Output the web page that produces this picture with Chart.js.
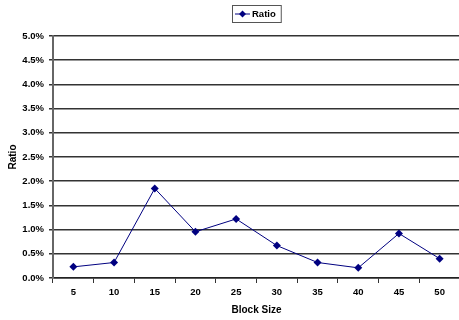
<!DOCTYPE html>
<html>
<head>
<meta charset="utf-8">
<script src="https://cdn.jsdelivr.net/npm/chart.js@4/dist/chart.umd.min.js"></script>
<style>
  html, body { margin: 0; padding: 0; background: #fff; overflow: hidden; }
  #wrap { width: 464px; height: 320px; position: relative; }
</style>
</head>
<body>
<div id="wrap"><canvas id="c" width="464" height="320"></canvas></div>
<script>
// Block sizes on the category axis
const blockSizes = ['5', '10', '15', '20', '25', '30', '35', '40', '45', '50'];
// Ratio per block size (fraction, shown as percent)
const ratioValues = [0.0023, 0.0032, 0.0185, 0.00955, 0.0122, 0.0067, 0.0032, 0.0021, 0.0092, 0.0040];
const seriesName = 'Ratio';
const xTitle = 'Block Size';
const yTitle = 'Ratio';

const NAVY = '#000080';
const FONT = "'Liberation Sans', Arial, sans-serif";

// Boxed legend with a line-and-diamond swatch, drawn above the plot
const boxedLegend = {
  id: 'boxedLegend',
  afterDraw(chart) {
    const ctx = chart.ctx;
    const ds = chart.data.datasets[0];
    ctx.save();
    ctx.font = "bold 9.5px " + FONT;
    const tw = ctx.measureText(ds.label).width;
    const w = 20 + tw + 5, h = 17;
    const x = 232, y = 5;
    ctx.fillStyle = '#fff';
    ctx.fillRect(x, y, w, h);
    ctx.strokeStyle = '#555';
    ctx.lineWidth = 1;
    ctx.strokeRect(x + 0.5, y + 0.5, w, h);
    const cy = y + h / 2 + 0.5;
    ctx.strokeStyle = NAVY;
    ctx.beginPath();
    ctx.moveTo(x + 3, cy);
    ctx.lineTo(x + 18, cy);
    ctx.stroke();
    ctx.fillStyle = NAVY;
    ctx.beginPath();
    ctx.moveTo(x + 10.5, cy - 3.5);
    ctx.lineTo(x + 14, cy);
    ctx.lineTo(x + 10.5, cy + 3.5);
    ctx.lineTo(x + 7, cy);
    ctx.closePath();
    ctx.fill();
    ctx.fillStyle = '#000';
    ctx.textBaseline = 'middle';
    ctx.fillText(ds.label, x + 20, cy);
    ctx.restore();
  }
};

new Chart(document.getElementById('c'), {
  type: 'line',
  data: {
    labels: blockSizes,
    datasets: [{
      label: seriesName,
      data: ratioValues,
      borderColor: NAVY,
      backgroundColor: NAVY,
      borderWidth: 1,
      pointStyle: 'rectRot',
      pointRadius: 4,
      pointBorderWidth: 0,
      tension: 0
    }]
  },
  options: {
    responsive: false,
    animation: false,
    devicePixelRatio: 1,
    layout: { padding: { left: 0, right: 1.5, top: 36, bottom: 0 } },
    plugins: { legend: { display: false }, tooltip: { enabled: false } },
    scales: {
      x: {
        offset: true,
        grid: { offset: true, drawOnChartArea: false, drawTicks: true, tickLength: 5, color: '#333' },
        border: { color: '#222', width: 1.5 },
        ticks: { color: '#000', font: { family: FONT, size: 9.5, weight: 'bold' }, padding: 4, maxRotation: 0 },
        title: { display: true, text: xTitle, color: '#000', font: { family: FONT, size: 10, weight: 'bold' }, padding: { top: 3, bottom: 4 } },
        afterFit(scale) { scale.height = 42; }
      },
      y: {
        min: 0,
        max: 0.05,
        grid: { color: '#333', lineWidth: 1.5, tickLength: 4 },
        border: { color: '#666', width: 2 },
        ticks: {
          stepSize: 0.005,
          color: '#000',
          font: { family: FONT, size: 9.5, weight: 'bold' },
          padding: 5,
          callback: v => (v * 100).toFixed(1) + '%'
        },
        title: { display: true, text: yTitle, color: '#000', font: { family: FONT, size: 10, weight: 'bold' }, padding: { top: 7, bottom: 0 } },
        afterFit(scale) { scale.width = 53; }
      }
    }
  },
  plugins: [boxedLegend]
});
</script>
</body>
</html>
